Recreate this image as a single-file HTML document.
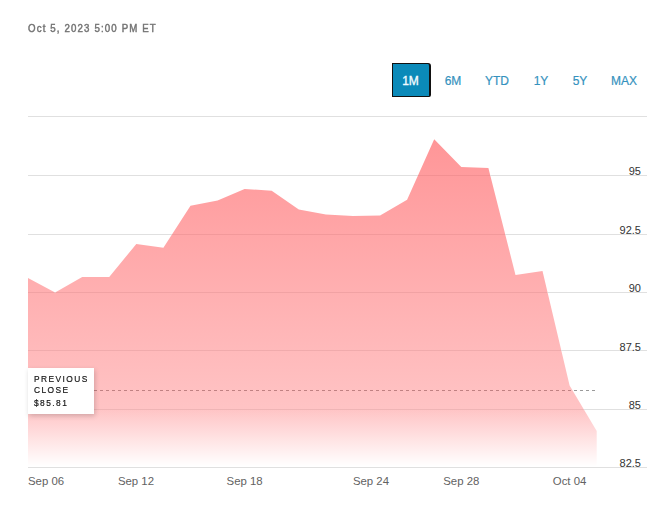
<!DOCTYPE html>
<html><head><meta charset="utf-8">
<style>
html,body{margin:0;padding:0;background:#fff;}
body{width:671px;height:516px;position:relative;overflow:hidden;font-family:"Liberation Sans",sans-serif;}
.hdr{position:absolute;left:28px;top:23px;font-size:10.2px;color:#747474;letter-spacing:1.2px;-webkit-text-stroke:0.45px #747474;transform-origin:0 0;transform:scaleX(0.95);white-space:nowrap;}
.btn{position:absolute;top:63px;height:34px;line-height:37px;font-size:12px;color:#3592be;text-align:center;white-space:nowrap;-webkit-text-stroke:0.2px #3592be;}
.btn.on{left:392px;width:35px;padding-right:1px;background:#0b8ab9;color:#f2fbff;border:1px solid #111;border-right-width:2px;border-bottom-width:1.5px;border-radius:0 3px 2px 0;height:31.5px;line-height:34px;-webkit-text-stroke:0.35px #f2fbff;}
svg{position:absolute;left:0;top:0;}
.tip{position:absolute;left:28px;top:368px;width:66px;height:46px;background:#fff;box-shadow:1px 2px 5px rgba(0,0,0,0.18);}
.tip div{position:absolute;left:6px;font-size:9.2px;color:#151515;letter-spacing:1.6px;white-space:nowrap;-webkit-text-stroke:0.2px #151515;transform-origin:0 0;transform:scaleX(0.91);}
</style></head><body>
<div class="hdr">Oct 5, 2023 5:00 PM ET</div>
<div class="btn on">1M</div>
<div class="btn" style="left:438px;width:30px">6M</div>
<div class="btn" style="left:482px;width:30px">YTD</div>
<div class="btn" style="left:526px;width:30px">1Y</div>
<div class="btn" style="left:565px;width:30px">5Y</div>
<div class="btn" style="left:609px;width:30px">MAX</div>
<svg width="671" height="516" viewBox="0 0 671 516">
<defs>
<linearGradient id="g" gradientUnits="userSpaceOnUse" x1="0" y1="139" x2="0" y2="409">
<stop offset="0" stop-color="rgb(255,26,30)" stop-opacity="0.46"/>
<stop offset="1" stop-color="rgb(255,26,30)" stop-opacity="0.26"/>
</linearGradient>
<linearGradient id="w" gradientUnits="userSpaceOnUse" x1="0" y1="409" x2="0" y2="466">
<stop offset="0" stop-color="#fff" stop-opacity="0"/>
<stop offset="1" stop-color="#fff" stop-opacity="1"/>
</linearGradient>
<mask id="out" maskUnits="userSpaceOnUse" x="0" y="0" width="671" height="516">
<rect x="0" y="0" width="671" height="516" fill="#fff"/>
<polygon points="28,467 28.0,278 55.1,292.5 82.2,277 109.2,277 136.3,244 163.4,247.7 190.5,205.8 217.6,200.6 244.6,189 271.7,190.7 298.8,209.6 325.9,214.6 353.0,215.9 380.1,215.5 407.1,199.8 434.2,139.3 461.3,167 488.4,167.9 515.5,275 542.5,270.9 569.6,385.5 596.7,431 596.7,467" fill="#000"/>
</mask>
</defs>
<g stroke="#eaeaea" stroke-width="1"><line x1="28" y1="116.5" x2="647" y2="116.5"/><line x1="28" y1="175.5" x2="647" y2="175.5"/><line x1="28" y1="234.5" x2="647" y2="234.5"/><line x1="28" y1="292.5" x2="647" y2="292.5"/><line x1="28" y1="350.5" x2="647" y2="350.5"/><line x1="28" y1="409.5" x2="647" y2="409.5"/></g>
<line x1="94" y1="390.5" x2="596" y2="390.5" stroke="#a8a8a8" stroke-width="1" stroke-dasharray="3,3"/>
<polygon points="28,467 28.0,278 55.1,292.5 82.2,277 109.2,277 136.3,244 163.4,247.7 190.5,205.8 217.6,200.6 244.6,189 271.7,190.7 298.8,209.6 325.9,214.6 353.0,215.9 380.1,215.5 407.1,199.8 434.2,139.3 461.3,167 488.4,167.9 515.5,275 542.5,270.9 569.6,385.5 596.7,431 596.7,467" fill="url(#g)"/>
<g mask="url(#out)">
<g stroke="#e0e0e0" stroke-width="1"><line x1="28" y1="116.5" x2="647" y2="116.5"/><line x1="28" y1="175.5" x2="647" y2="175.5"/><line x1="28" y1="234.5" x2="647" y2="234.5"/><line x1="28" y1="292.5" x2="647" y2="292.5"/><line x1="28" y1="350.5" x2="647" y2="350.5"/><line x1="28" y1="409.5" x2="647" y2="409.5"/></g>
<line x1="94" y1="390.5" x2="596" y2="390.5" stroke="#9a9a9a" stroke-width="1" stroke-dasharray="3,3"/>
</g>
<rect x="0" y="410" width="671" height="57" fill="url(#w)"/>
<line x1="28" y1="467.5" x2="647" y2="467.5" stroke="#e0e0e0" stroke-width="1"/>
<g font-family="Liberation Sans" font-size="11" fill="#333" text-anchor="end">
<text x="641" y="175">95</text>
<text x="641" y="234">92.5</text>
<text x="641" y="292">90</text>
<text x="641" y="351">87.5</text>
<text x="641" y="409">85</text>
<text x="641" y="467">82.5</text>
</g>
<g font-family="Liberation Sans" font-size="11.4" fill="#626262" text-anchor="middle">
<text x="28" y="485" text-anchor="start">Sep 06</text>
<text x="136" y="485">Sep 12</text>
<text x="244.6" y="485">Sep 18</text>
<text x="371" y="485">Sep 24</text>
<text x="461.3" y="485">Sep 28</text>
<text x="569.6" y="485">Oct 04</text>
</g>
</svg>
<div class="tip"><div style="top:5.5px">PREVIOUS</div><div style="top:17px">CLOSE</div><div style="top:30px">$85.81</div></div>
</body></html>
